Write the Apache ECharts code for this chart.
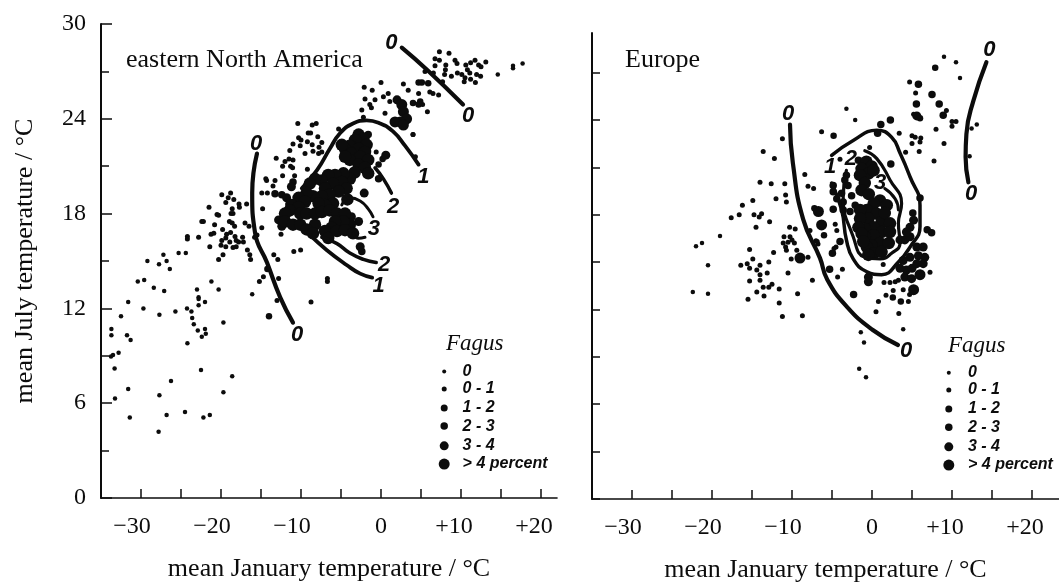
<!DOCTYPE html>
<html><head><meta charset="utf-8">
<style>html,body{margin:0;padding:0;background:#fff}#c{width:1059px;height:582px}</style>
<script src="https://cdn.jsdelivr.net/npm/echarts@6/dist/echarts.min.js"></script>
</head><body><div id="c"></div>
<script>
const legendLabels = ['0','0 - 1','1 - 2','2 - 3','3 - 4','> 4 percent'];
const yTickLabels = [0,6,12,18,24,30];
const xTickValues = [-30,-25,-20,-15,-10,-5,0,5,10,15,20];
const xLabelValues = [-30,-20,-10,0,10,20];

// eastern North America, by Fagus class
const naZero = [[-30.4,13.7],[-29.6,13.8],[-28.4,13.3],[-27.1,13.1],[-21.2,13.7],[-23,13.2],[-20.3,13.2],[-16.1,12.9],[-22.8,12.7],[-22.8,12.6],[-31.6,12.4],[-22,12.4],[-22.8,12.2],[-29.7,12],[-24.25,12],[-23.7,11.8],[-25.7,11.8],[-32.5,11.5],[-27.7,11.6],[-23.6,11.4],[-23.4,11],[-19.7,11.1],[-33.7,10.7],[-33.7,10.3],[-31.75,10.3],[-31.3,10],[-22.9,10.6],[-22,10.7],[-21.9,10.4],[-22.4,10.2],[-24.2,9.8],[-32.8,9.2],[-33.5,9.05],[-33.75,8.95],[-33.3,8.2],[-22.5,8.1],[-18.6,7.7],[-26.25,7.4],[-31.6,6.9],[-19.7,6.7],[-27.7,6.5],[-33.25,6.3],[-24.5,5.45],[-26.8,5.25],[-31.4,5.1],[-22.2,5.1],[-21.4,5.25],[-27.8,4.2],[-25.3,15.5],[-24.4,15.5],[-27.2,15.4],[-29.2,15],[-26.8,15],[-27.75,14.8],[-26.4,14.5],[14.6,26.8],[16.5,27.35],[16.5,27.2],[17.7,27.5]];
const naLow = [[-19.9,19.2],[-18.8,19.3],[-19.1,19],[-18.4,18.9],[-19.4,18.7],[-17.75,18.6],[-16.8,18.6],[-21.5,18.4],[-17.7,18.4],[-18.6,18.3],[-18.5,18],[-18.75,18],[-20.5,17.95],[-20.3,17.9],[-22.4,17.5],[-22.2,17.5],[-18.95,17.5],[-18.6,17.4],[-18.3,17.2],[-20.8,17.3],[-17,17.4],[-16.5,17.2],[-19.8,17],[-18.8,16.8],[-19.3,16.7],[-20.9,16.75],[-21.25,16.7],[-24.2,16.55],[-24.2,16.4],[-22.8,16.5],[-19.4,16.45],[-19.9,16.3],[-18.25,16.55],[-18.1,16.3],[-17.8,16.2],[-17.3,16.5],[-18.9,16.2],[-20,16],[-19.4,15.9],[-21.4,15.9],[-18.1,15.9],[-18.5,15.85],[-17.2,16.2],[-16.7,15.7],[-19.75,15.4],[-20.3,15.1],[-16.4,15.4],[-16.3,15.1],[-15.2,13.7],[-14.7,14],[-14.8,18.3],[-14.9,19.3],[-14.2,19.3],[-14.9,17.1],[-15.8,16.5],[-15.5,16.65],[-13.4,15.4],[-12.9,15.1],[-12.8,13.9],[-13,12.5],[-10.4,23.7],[-8.6,23.6],[-8.1,23.7],[-5.3,23.35],[-9.1,23.1],[-8.8,23.1],[-10.3,22.8],[-10,22.66],[-7.9,22.87],[-7.4,22.5],[-9.2,22.55],[-11,22.4],[-10.1,22.3],[-8.6,22.35],[-11.4,22],[-7.75,22.2],[-7.4,21.9],[-8.5,21.95],[-9.5,21.8],[-7.8,21.8],[-13.1,21.5],[-11,21.4],[-12,21.3],[-11.5,21.45],[-12.3,21],[-11.3,21],[-9.2,20.8],[-11.05,20.9],[-14.4,20.2],[-14.3,20.1],[-12.3,20.4],[-10.8,20.4],[-13.25,20.1],[-13.5,19.75],[-10.9,15.6],[-10.05,15.7],[-12.5,16.7],[-6.7,13.9],[-6.7,13.7],[-8.75,12.4],[-0.6,21.9],[4,23],[4.3,21.6],[7.3,28.25],[8.5,28.15],[6.75,27.8],[7.3,27.7],[9.25,27.7],[9.5,27.5],[6.75,27.35],[8.1,27.4],[8.05,27.1],[7.95,26.8],[11.75,27.7],[11.2,27.55],[10.6,27.4],[12.2,27.4],[12.5,27.3],[13.1,27.6],[10.8,27.1],[9.55,26.9],[10.1,26.8],[11.1,26.9],[11.95,26.8],[12.45,26.7],[10.5,26.6],[11.2,26.5],[10.4,26.35],[11.8,26.3],[8.8,26.7],[7.7,26.35],[6.55,26.9],[5.5,27],[-2.1,26],[-1.1,25.8],[0,26.3],[2.8,26.2],[3.4,25.8],[4.7,25.6],[6.1,25.7],[6.5,25.6],[7.2,25.5],[0.9,25.6],[0.3,25.4],[-2,25.25],[-0.75,25.2],[1.1,25.1],[-1.4,24.9],[-1.2,24.7],[-2.4,24.55],[0.5,24.35],[5.2,24.9],[5.8,24.45],[4,23],[-2.2,24.1]];
const naMid = [[-14,11.5],[-14.2,14.5],[4.7,26.3],[5.1,26.3],[5.9,26.25],[4,25],[4.9,25.1],[4.7,24.9],[0.2,21.45],[-0.3,21.1]];
const naHigh = [[-0.3,20.2],[-2.4,15.6],[-1.6,23],[-13.25,19.25],[-12.4,19.2],[-11,20]];
const naVeryHigh = [[-2.1,19.3],[0.6,21.7],[-2.6,15.9],[2,25.2],[-11.2,19.7],[-11.8,19],[-12.8,17.6],[-12.4,17.2],[-3.7,17.8],[-2.8,17.5]];
const naOver = [[2.6,24.9],[2.8,24.45],[3.2,24],[2.4,23.8],[1.75,23.8],[2.8,23.6]];
const naCore = [[-2.8,23],[-2.2,22.75],[-3.25,22.66],[-1.8,22.35],[-3.9,22.3],[-2.8,22.1],[-2,21.9],[-4.5,22.1],[-3.7,21.8],[-2.6,21.6],[-1.6,21.4],[-3.9,21.4],[-2.8,21.1],[-2,20.9],[-1.6,20.55],[-4.5,21.6],[-4.9,22.35],[-3.3,20.6],[-3.9,20.2],[-4.7,20.55],[-5.75,20.45],[-6.6,20.45],[-7.4,20.1],[-8.25,20.2],[-8.9,19.9],[-4.9,20],[-6,19.9],[-7,19.6],[-4.3,19.6],[-5.3,19.4],[-6.4,19.2],[-7.4,19.1],[-8.5,19.1],[-9.3,19.3],[-10.3,19],[-9.5,18.75],[-4.2,18.9],[-6,18.65],[-7,18.55],[-7.8,18.65],[-11.2,18.55],[-10.3,18.4],[-11.4,18.2],[-12,18],[-12,17.5],[-11,17.3],[-10.1,17.3],[-10.1,18],[-9.3,18],[-8.25,18],[-7.4,18.1],[-6.4,18.2],[-5.5,18],[-4.5,18],[-3.9,17.3],[-4.7,17.5],[-5.75,17.5],[-6.2,17.1],[-7,16.9],[-8.25,17.3],[-9.3,17],[-8.5,16.75],[-6.6,16.45],[-5.5,16.9],[-4.5,16.95],[-3.5,16.75]];

// Europe, by Fagus class
const euZero = [[-19,16.65],[-21.25,16.2],[-22,16],[-20.5,14.8],[-22.4,13.1],[-20.5,13],[-1.4,10.55],[-1,9.9],[-1.6,8.25],[-0.75,7.7],[3.9,10.75],[13.1,23.7],[12.45,23.45],[12.2,21.7],[-3.2,24.7],[-2.1,24],[9,28],[10.5,27.65],[11,26.65]];
const euLow = [[-6.3,23.25],[-11.2,22.8],[-13.6,22],[-12.2,21.55],[-8.4,20.55],[-14,20.05],[-12.6,19.95],[-10.9,19.95],[-8,19.8],[-7.3,19.65],[-10.8,19.25],[-12,19],[-14.9,18.9],[-10.7,18.8],[-16.2,18.6],[-16.6,18],[-14.75,18],[-13.8,18.05],[-14.1,17.85],[-17.6,17.8],[-12.8,17.55],[-14.5,17.2],[-10.3,17.2],[-9.6,17.1],[-7.75,17],[-11,16.6],[-10.25,16.6],[-10,16.4],[-10.5,16.25],[-11.1,16.2],[-10.8,15.95],[-10.7,15.75],[-9.7,16.2],[-9.4,15.75],[-7,16.35],[-6.75,16.15],[-15.3,15.8],[-12.3,15.6],[-10.1,15.2],[-8,15.3],[-14.9,15.2],[-12.9,15],[-16.4,14.8],[-15.6,14.9],[-15.3,14.6],[-14,14.8],[-14.4,14.5],[-13.1,14.3],[-14,14.2],[-10.5,14.3],[-14,13.85],[-7.45,13.85],[-15.3,13.8],[-13.6,13.4],[-12.9,13.4],[-12.5,13.6],[-11.6,13.3],[-14.4,13.1],[-13.5,12.85],[-15.5,12.65],[-9.3,13],[-11.6,12.4],[-11.2,11.55],[-8.7,11.6],[-0.3,22.25],[-4,21.5],[-4.6,17.4],[-4.4,17],[-6.85,16.3],[-4.5,15.95],[-4.75,15.85],[-3.7,14.55],[-4.3,14.05],[0.8,12.5],[0.5,11.85],[1.75,12.9],[2.65,13.2],[3.9,13.25],[4.7,12.95],[4.55,12.5],[3.35,11.75],[1.5,13.7],[2.25,13.7],[2.9,13.75],[3.3,13.85],[7.25,14.35],[1.4,14.85],[4.7,26.4],[5.45,25.7],[5.2,24.35],[9.3,24.6],[10,23.9],[10.5,23.9],[10,23.6],[8,23.4],[9,22.5],[7.75,21.4],[3.4,23.15],[5,23],[5.4,22.9],[6.1,22.85],[6,22.6],[5,22.5],[5.9,22],[4.2,21.95]];
const euMid = [[7.9,27.3],[-7.2,18.4],[-6,16.7],[2.6,12.75],[3.6,12.5],[-4.8,23],[6,24.1]];
const euHigh = [[5.8,26.25],[7.5,25.6],[5.55,25],[8.4,25],[8.9,24.3],[2.3,24],[1.1,23.7],[0.7,23.15],[-4.85,18.35],[-4,16.3],[-4.95,15.55],[-5.3,14.55],[-2.3,12.95],[6.9,17.05],[7.45,16.85],[2.35,21.2],[5.1,18.1],[6,19.05],[-4.85,19.85],[-4.85,19.45],[-4.4,19],[-3.8,19.35],[-3.6,18.8],[-3.2,20.5],[-3,19.85],[-2.55,19.2],[-3.6,18.3],[-2.75,18.2],[-2.1,18.6],[-3.4,20.2],[-1.7,21.45]];
const euVeryHigh = [[5.6,24.25],[4.1,16.4],[4.75,16.6],[3.5,16.4],[5.6,15.95],[6.4,15.95],[6.6,15.3],[5.8,15.4],[4.75,15.3],[4.3,14.5],[4.1,14.05],[3.5,14.6],[4.95,13.95],[6.4,14.9],[4.75,17.2],[4.3,16.9],[5.2,17.65],[-0.45,14.05],[-0.45,13.75],[5,14.6],[3.9,15.1],[5.6,14.9]];
const euOver = [[-9,15.25],[-6.7,18.2],[-6.3,17.35],[6,14.2],[5.2,13.25]];
const euCore = [[-0.7,21.35],[-0.05,21.05],[-1.3,20.9],[-0.45,20.6],[-1.5,20.5],[0.2,20.8],[-0.9,20],[-1.3,19.55],[-0.4,19.3],[1,18.9],[1.85,18.6],[0.2,18.7],[-0.65,18.3],[-1.5,18.3],[0.6,18.05],[-0.45,17.75],[-1.5,17.75],[1.2,17.55],[1.6,18.1],[2.25,17.45],[0.2,17.2],[-0.9,17.1],[-1.7,17.2],[1.2,16.9],[2.25,16.9],[0.2,16.7],[-0.9,16.6],[-1.3,16.8],[1,16.2],[-0.05,16.05],[-0.65,15.95],[0.2,15.55],[1.2,15.65],[-0.45,15.45],[-1.1,16.3],[2.1,16.2]];

// Isolines, eastern North America
const naZeroWest = [[-15.5,21.8],[-16.1,19.3],[-15.75,16.8],[-14.25,14.9],[-12.6,12.7],[-11,11.1]];
const naZeroEast = [[2.6,28.5],[5.75,27.1],[10.25,24.9]];
const naOneUpper = [[-9.9,19.6],[-8,20.75],[-6.4,22.1],[-5.1,23.1],[-3.5,23.7],[-1.8,23.9],[-0.1,23.7],[1.5,23.2],[3,22.3],[4.7,21.1]];
const naTwoUpper = [[-0.75,20.9],[0.3,20.2],[1.3,19.3]];
const naThreeUpper = [[-4.9,18.55],[-3.9,19],[-2.6,18.8],[-1.6,18.3],[-1,17.8]];
const naThreeLower = [[-3.5,16.75],[-2.8,16.44],[-2,16.5]];
const naTwoLower = [[-7.4,16.5],[-5.5,16.1],[-3.9,15.5],[-2.2,15.1],[-0.6,14.9]];
const naOneLower = [[-8.9,16.65],[-6.8,15.7],[-4.3,14.75],[-2.6,14.2],[-1.1,13.95]];
// Isolines, Europe
const euZeroWest = [[-10.25,23.7],[-9.9,21.3],[-8.6,17.7],[-6.5,15.25],[-5.6,13.9],[-3.1,12.15],[0.1,10.7],[3.25,9.75]];
const euZeroEast = [[14.3,27.65],[12.67,25.2],[11.8,23.1],[11.7,21.65],[12.05,20.05]];
const euOne = [[-5.05,21.75],[-2.35,22.7],[0.6,23.35],[2.45,22.9],[3.5,21.9],[4.75,20.4],[6,18.6],[6,17.25],[4.75,15.95],[3.3,15],[1.2,14.2],[-0.7,14.4],[-2.35,15.2],[-3.2,16.4],[-3.8,18.3],[-5.05,20]];
const euTwo = [[-0.9,22.05],[0.6,21.55],[2.25,20.2],[3.7,18.7],[3.3,17.45],[3.5,16.2],[2.45,15.55],[1,15.2],[-0.9,15.3],[-2.35,16.6],[-3.6,19.1],[-3.2,20.8]];
const euThree = [[1.6,19.65],[2.9,19],[3.3,18.3]];

// Isoline labels: x, y, text
const naLineLabels = [[-15.6,22.4,'0'],[-10.5,10.3,'0'],[1.3,28.8,'0'],[10.9,24.2,'0'],[5.3,20.3,'1'],[1.5,18.4,'2'],[-0.9,17,'3'],[0.4,14.75,'2'],[-0.3,13.4,'1']];
const euLineLabels = [[-10.5,24.4,'0'],[4.25,9.4,'0'],[14.67,28.4,'0'],[12.4,19.3,'0'],[-5.25,21,'1'],[-2.65,21.55,'2'],[1,20,'3']];

// Legend samples in data coordinates
const naLegendX = 7.9, naLegendTextX = 10.2;
const euLegendX = 9.6, euLegendTextX = 12;
const legendY = [8,6.9,5.7,4.55,3.3,2.15];

const ink = '#0c0c0c';
const classSizes = [4.5,5,6.5,7.5,9,11,12.5];
const legendSizes = [4,5,7,7.5,9,11];
function dots(name, data, size, i){
  return {type:'scatter',name,data,xAxisIndex:i,yAxisIndex:i,symbol:'circle',symbolSize:size,
    itemStyle:{color:ink,opacity:1},silent:true,z:3};
}
function curve(name, data, i, w){
  return {type:'line',name,data,xAxisIndex:i,yAxisIndex:i,smooth:0.5,showSymbol:false,symbol:'none',
    lineStyle:{color:ink,width:w,cap:'round',opacity:1},silent:true,z:4};
}
function lineLabels(rows, i){
  return {type:'scatter',data:rows,xAxisIndex:i,yAxisIndex:i,symbolSize:0,z:6,silent:true,itemStyle:{opacity:1},
    label:{show:true,position:'inside',formatter:p=>p.value[2],color:ink,opacity:1,
      fontFamily:'Liberation Sans',fontStyle:'italic',fontWeight:'bold',fontSize:22}};
}
function legendDots(x, i){
  return {type:'scatter',data:legendY.map((y,k)=>({value:[x,y],symbolSize:legendSizes[k]})),
    xAxisIndex:i,yAxisIndex:i,itemStyle:{color:ink,opacity:1},z:5,silent:true};
}
function legendText(x, i){
  return {type:'scatter',data:legendY.map((y,k)=>({value:[x,y],name:legendLabels[k]})),
    xAxisIndex:i,yAxisIndex:i,symbolSize:0,z:5,silent:true,itemStyle:{opacity:1},
    label:{show:true,position:'right',distance:0,formatter:'{b}',color:ink,opacity:1,
      fontFamily:'Liberation Sans',fontStyle:'italic',fontWeight:'bold',fontSize:16}};
}
const serif = 'Liberation Serif';
function xAxis(gridIndex, min, max){
  return {type:'value',gridIndex,min,max,interval:5,
    axisLine:{show:true,onZero:false,lineStyle:{color:ink,width:1.6}},
    axisTick:{show:true,inside:true,length:9,customValues:xTickValues,lineStyle:{color:ink,width:1.5}},
    splitLine:{show:false},
    axisLabel:{show:true,margin:17,customValues:xLabelValues,color:ink,
      formatter:v=>v<0?'{n|\u2212'+(-v)+'}':v>0?'{p|+'+v+'}':'{z|0}',
      rich:{
        n:{fontFamily:serif,fontSize:24,color:ink,padding:[0,18,0,0]},
        p:{fontFamily:serif,fontSize:24,color:ink,padding:[0,14,0,0]},
        z:{fontFamily:serif,fontSize:24,color:ink}
      }},
    name:'mean January temperature / \u00b0C',nameLocation:'middle',nameGap:58,
    nameTextStyle:{fontFamily:serif,fontSize:26,color:ink}};
}
const titleStyle = {fontFamily:serif,fontSize:26,fontWeight:'normal',color:ink};
const fagusStyle = {fontFamily:serif,fontSize:23,fontStyle:'italic',fontWeight:'normal',color:ink};
const option = {
  animation:false,backgroundColor:'#fff',
  title:[
    {text:'eastern North America',left:121,top:42,textStyle:titleStyle},
    {text:'Europe',left:620,top:42,textStyle:titleStyle},
    {text:'Fagus',left:441,top:327,textStyle:fagusStyle},
    {text:'Fagus',left:943,top:329,textStyle:fagusStyle}
  ],
  grid:[
    {left:101,top:24,width:456,height:474,containLabel:false,outerBoundsMode:'none'},
    {left:592,top:33,width:467,height:466,containLabel:false,outerBoundsMode:'none'}
  ],
  xAxis:[xAxis(0,-35,22),xAxis(1,-35,23.375)],
  yAxis:[
    {type:'value',gridIndex:0,min:0,max:30,interval:6,
     axisLine:{show:true,onZero:false,lineStyle:{color:ink,width:2}},
     axisTick:{show:true,inside:true,length:11,lineStyle:{color:ink,width:1.5}},
     minorTick:{show:true,splitNumber:2,length:8,lineStyle:{color:ink,width:1.5}},
     splitLine:{show:false},minorSplitLine:{show:false},
     axisLabel:{show:true,margin:15,fontFamily:serif,fontSize:24,color:ink,customValues:yTickLabels},
     name:'mean July temperature / \u00b0C',nameLocation:'middle',nameGap:63,nameRotate:90,
     nameTextStyle:{fontFamily:serif,fontSize:26,color:ink}},
    {type:'value',gridIndex:1,min:0,max:29.5,interval:3,
     axisLine:{show:true,onZero:false,lineStyle:{color:ink,width:2}},
     axisTick:{show:true,inside:true,length:8,customValues:[0,3,6,9,12,15,18,21,24,27],lineStyle:{color:ink,width:1.5}},
     splitLine:{show:false},axisLabel:{show:false}}
  ],
  series:[
    dots('0',naZero,classSizes[0],0),dots('0 - 1',naLow,classSizes[1],0),dots('1 - 2',naMid,classSizes[2],0),
    dots('2 - 3',naHigh,classSizes[3],0),dots('3 - 4',naVeryHigh,classSizes[4],0),dots('> 4 percent',naOver,classSizes[5],0),dots('> 4 percent',naCore,classSizes[6],0),
    dots('0',euZero,classSizes[0],1),dots('0 - 1',euLow,classSizes[1],1),dots('1 - 2',euMid,classSizes[2],1),
    dots('2 - 3',euHigh,classSizes[3],1),dots('3 - 4',euVeryHigh,classSizes[4],1),dots('> 4 percent',euOver,classSizes[5],1),dots('> 4 percent',euCore,classSizes[6],1),
    curve('0',naZeroWest,0,4.2),curve('0',naZeroEast,0,4.2),curve('1',naOneUpper,0,3.8),curve('2',naTwoUpper,0,3.5),
    curve('3',naThreeUpper,0,3),curve('3',naThreeLower,0,3),curve('2',naTwoLower,0,3.5),curve('1',naOneLower,0,3.8),
    curve('0',euZeroWest,1,4.2),curve('0',euZeroEast,1,4.2),curve('1',euOne,1,3.5),curve('2',euTwo,1,3.2),curve('3',euThree,1,3),
    lineLabels(naLineLabels,0),lineLabels(euLineLabels,1),
    legendDots(naLegendX,0),legendDots(euLegendX,1),legendText(naLegendTextX,0),legendText(euLegendTextX,1)
  ]
};
echarts.init(document.getElementById('c'),null,{renderer:'canvas'}).setOption(option);
</script></body></html>
